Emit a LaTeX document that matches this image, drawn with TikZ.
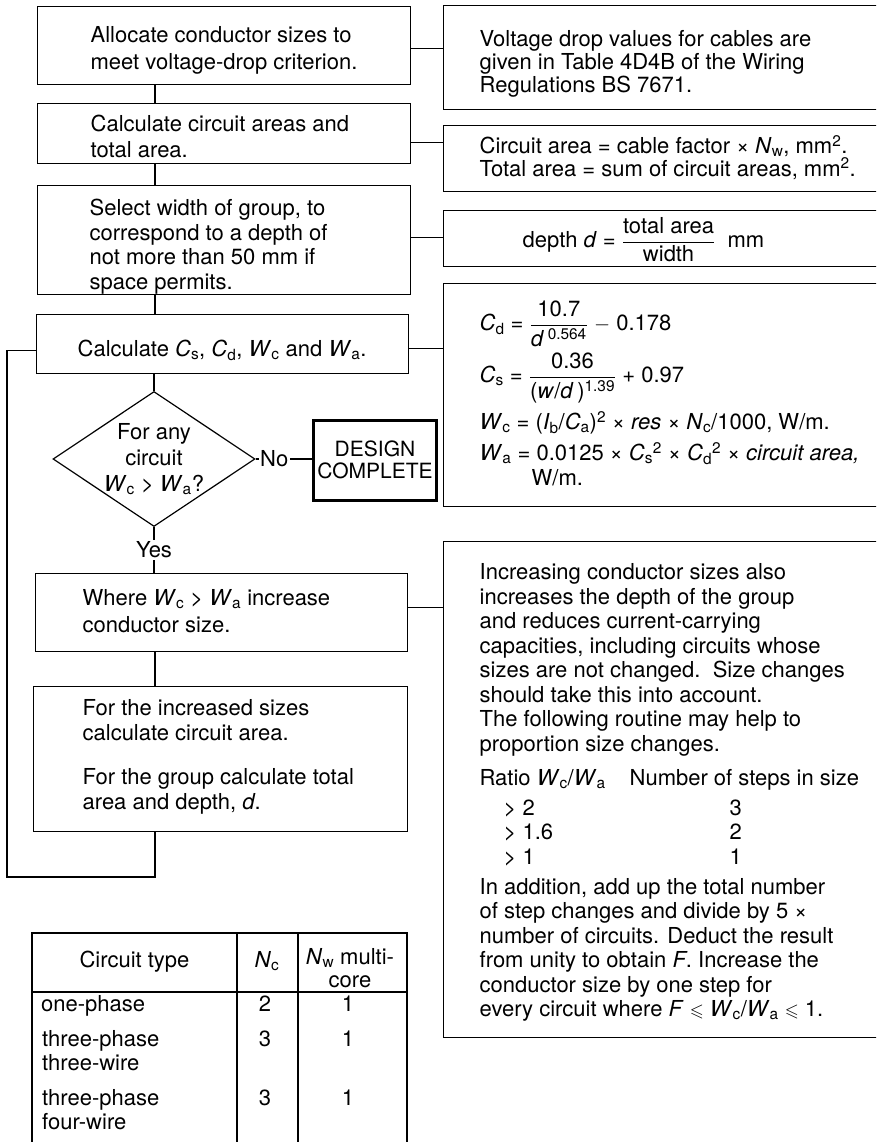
\documentclass[tikz,border=0pt]{standalone}
\usepackage{fontspec}
\setmainfont{TeX Gyre Heros}
\usepackage{amsmath,amssymb}
\usetikzlibrary{shapes.geometric}
\newcommand\isub[2]{\textit{#1}\textsubscript{#2}}
\newcommand\sups[1]{\raisebox{0pt}[0pt][0pt]{\textsuperscript{#1}}}
\newcommand\flatfrac[2]{\raisebox{0pt}[0pt][0pt]{$\dfrac{\text{#1}}{\text{#2}}$}}
\newcommand\smleq{{\fontsize{18}{18}\selectfont$\leqslant$}}
\newcommand\boxlines[3]{\makebox[#1][l]{\fontsize{22}{#2}\selectfont\begin{tabular}[t]{@{}l@{}}#3\end{tabular}}}
\begin{document}
\begin{tikzpicture}[x=1pt,y=-1pt,font=\fontsize{22}{24.5}\selectfont,
  box/.style={draw,line width=1.3pt,anchor=north west,inner ysep=0pt},
  rbox/.style={box,inner xsep=36pt},
  conn/.style={line width=1.1pt},
  lab/.style={fill=white,inner sep=1.5pt},
  cell/.style={inner sep=0pt,anchor=base}]
\useasboundingbox (0,0) rectangle (876,1142);
\fill[white] (0,0) rectangle (876,1142);
\clip (0,0) rectangle (876,1142);

% left column
\node[box,inner xsep=53pt,text height=36pt,text depth=42pt] (b1) at (37,6)
  {\boxlines{267pt}{27pt}{Allocate conductor sizes to\\meet voltage-drop criterion.}};
\node[box,inner xsep=53pt,text height=28pt,text depth=32pt] (b2) at (37,103)
  {\boxlines{267pt}{26pt}{Calculate circuit areas and\\total area.}};
\node[box,inner xsep=52pt,text height=30pt,text depth=79pt] (b3) at (37,185)
  {\boxlines{269pt}{24.5pt}{Select width of group, to\\correspond to a depth of\\not more than 50 mm if\\space permits.}};
\node[box,inner xsep=41pt,text height=42pt,text depth=17pt] (b4) at (36,314)
  {\boxlines{290pt}{24pt}{Calculate \isub{C}{s}, \isub{C}{d}, \isub{W}{c} and \isub{W}{a}.}};
\node[draw,diamond,aspect=1.5,inner sep=-2pt,minimum width=202pt,minimum height=135pt,
  align=center,font=\fontsize{22}{26}\selectfont,line width=1.2pt] (d) at (154,459)
  {For any\\circuit\\\isub{W}{c} > \isub{W}{a}?};
\node[draw,line width=3pt,minimum width=123pt,minimum height=80pt,inner sep=0pt,
  align=center,font=\fontsize{21}{22}\selectfont] (dc) at (375,460) {DESIGN\\COMPLETE};
\node[box,inner xsep=47pt,text height=32pt,text depth=46pt] (b5) at (35,573)
  {\boxlines{278pt}{27pt}{Where \isub{W}{c} > \isub{W}{a} increase\\conductor size.}};
\node[box,inner xsep=49pt,text height=29pt,text depth=116pt] (b6) at (33,686)
  {\boxlines{276pt}{25pt}{For the increased sizes\\calculate circuit area.\\[19pt]For the group calculate total\\area and depth, \textit{d}.}};

% right column
\node[rbox,text height=41pt,text depth=63pt] (r1) at (443,5)
  {\boxlines{400pt}{22.5pt}{Voltage drop values for cables are\\given in Table 4D4B of the Wiring\\Regulations BS 7671.}};
\node[rbox,text height=28pt,text depth=38pt] (r2) at (443,125)
  {\boxlines{400pt}{22pt}{Circuit area = cable factor × \isub{N}{w}, mm\sups{2}.\\Total area = sum of circuit areas, mm\sups{2}.}};
\node[rbox,text height=37pt,text depth=19pt] (r3) at (443,210)
  {\boxlines{400pt}{24pt}{\hspace*{43pt}depth \textit{d} = \flatfrac{total area}{width}\ \ mm}};
\node[rbox,text height=47pt,text depth=176pt] (r4) at (443,283)
  {\boxlines{400pt}{24pt}{\isub{C}{d} = \flatfrac{10.7}{\textit{d}\,\textsuperscript{0.564}} $-$ 0.178\\[28pt]
  \isub{C}{s} = \flatfrac{0.36}{(\textit{w}/\textit{d}\,)\textsuperscript{1.39}} + 0.97\\[23pt]
  \isub{W}{c} = (\isub{I}{b}/\isub{C}{a})\sups{2} × \textit{res} × \isub{N}{c}/1000, W/m.\\[7pt]
  \isub{W}{a} = 0.0125 × \isub{C}{s}\sups{2} × \isub{C}{d}\sups{2} × \textit{circuit area,}\\[1pt]
  \hspace*{52pt}W/m.}};
\node[rbox,text height=38pt,text depth=458pt] (r5) at (443,541)
  {\boxlines{400pt}{24.5pt}{Increasing conductor sizes also\\
  increases the depth of the group\\
  and reduces current-carrying\\
  capacities, including circuits whose\\
  sizes are not changed.\ \ Size changes\\
  should take this into account.\\
  The following routine may help to\\
  proportion size changes.\\[10pt]
  \makebox[150pt][l]{Ratio \isub{W}{c}/\isub{W}{a}}Number of steps in size\\[5pt]
  \makebox[250pt][l]{\hspace*{24pt}> 2}3\\
  \makebox[250pt][l]{\hspace*{24pt}> 1.6}2\\
  \makebox[250pt][l]{\hspace*{24pt}> 1}1\\[5.5pt]
  In addition, add up the total number\\
  of step changes and divide by 5 ×\\
  number of circuits. Deduct the result\\
  from unity to obtain \textit{F}. Increase the\\
  conductor size by one step for\\
  every circuit where \textit{F} \smleq\ \isub{W}{c}/\isub{W}{a} \smleq\ 1.}};

% connectors
\coordinate (cx) at (155,0);
\draw[conn] (b1.south -| cx) -- (b2.north -| cx);
\draw[conn] (b2.south -| cx) -- (b3.north -| cx);
\draw[conn] (b3.south -| cx) -- (b4.north -| cx);
\draw[conn] (b4.south -| d.north) -- (d.north);
\draw[conn] (d.south) -- (d.south |- b5.north) node[midway,lab] {Yes};
\draw[conn] (b5.south -| cx) -- (b6.north -| cx);
\draw[conn] (d.east) -- (d.east -| dc.west) node[pos=0.33,lab] {No};
\coordinate (lp) at (7,877);
\draw[conn] (b6.south -| cx) |- (lp) |- ([yshift=-6pt]b4.west);

\coordinate (s1) at ([yshift=-3pt]b1.east);
\coordinate (s2) at ([yshift=-9pt]b2.east);
\coordinate (s3) at ([yshift=2.5pt]b3.east);
\coordinate (s4) at ([yshift=-4.5pt]b4.east);
\coordinate (s5) at ([yshift=5pt]b5.east);
\draw[conn] (s1) -- (s1 -| r1.west);
\draw[conn] (s2) -- (s2 -| r2.west);
\draw[conn] (s3) -- (s3 -| r3.west);
\draw[conn] (s4) -- (s4 -| r4.west);
\draw[conn] (s5) -- (s5 -| r5.west);

% table
\draw[conn] (32,1150) -- (32,933) -- (407,933) -- (407,1150);
\draw[conn] (237,933) -- (237,1150);
\draw[conn] (298,933) -- (298,1150);
\draw[conn] (32,992) -- (407,992);
\node[cell] (th1) at (134.5,967) {Circuit type};
\node[cell] (th2) at (267,967) {\isub{N}{c}};
\node[cell] (th3) at (350,964) {\isub{N}{w} multi-};
\node[cell] (th4) at (350,987) {core};
\node[cell,anchor=base west] (c1) at (41,1011) {one-phase};
\node[cell,anchor=base west] (c2) at (42,1046) {three-phase};
\node[cell,anchor=base west] (c3) at (42,1070) {three-wire};
\node[cell,anchor=base west] (c4) at (42,1105) {three-phase};
\node[cell,anchor=base west] (c5) at (42,1129) {four-wire};
\node[cell] (n1) at (265,1011) {2};
\node[cell] (w1) at (348,1011) {1};
\node[cell] (n2) at (265,1046) {3};
\node[cell] (w2) at (348,1046) {1};
\node[cell] (n3) at (265,1105) {3};
\node[cell] (w3) at (348,1105) {1};
\end{tikzpicture}
\end{document}
